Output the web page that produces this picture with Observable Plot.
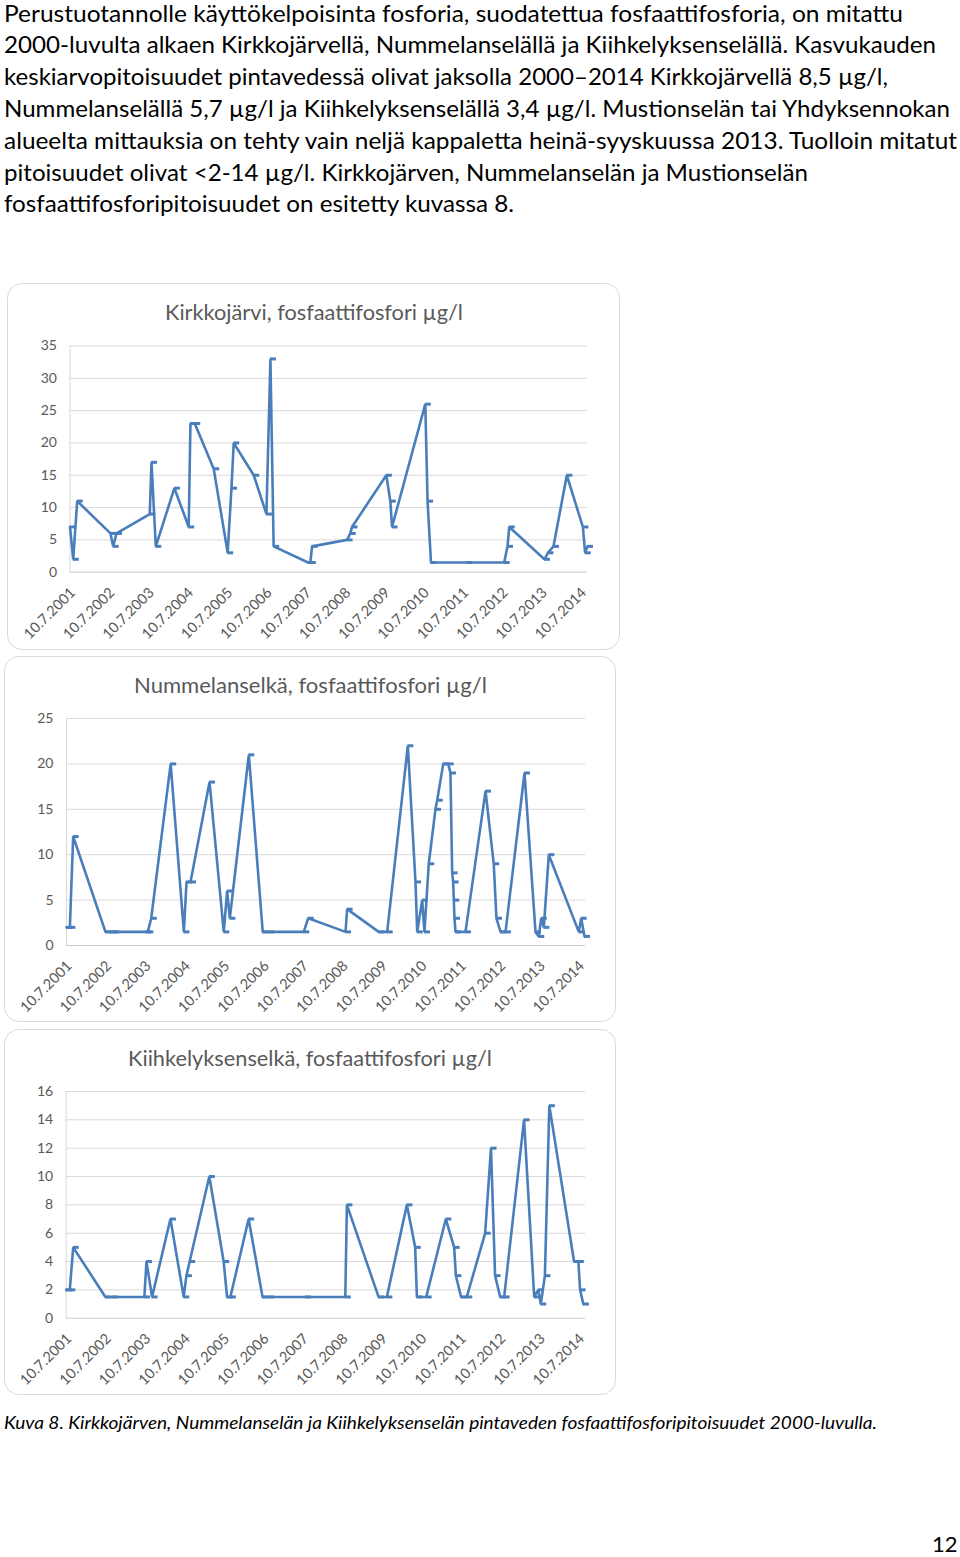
<!DOCTYPE html>
<html><head><meta charset="utf-8">
<script src="https://cdn.jsdelivr.net/npm/d3@7"></script>
<script src="https://cdn.jsdelivr.net/npm/@observablehq/plot@0.6"></script>
<style>
body{margin:0;background:#fff;}
#page{position:relative;width:960px;height:1557px;overflow:hidden;font-family:Lato,"Open Sans",sans-serif;}
.tl{position:absolute;white-space:nowrap;transform-origin:0 50%;display:inline-block;}
.panel{position:absolute;border:1px solid #d9d9d9;border-radius:15px;background:#fff;box-sizing:border-box;}
.chart{position:absolute;left:0;}
</style></head><body><div id="page"></div>
<script>
// ---------- text ----------
const paragraphLines = [
  "Perustuotannolle käyttökelpoisinta fosforia, suodatettua fosfaattifosforia, on mitattu",
  "2000-luvulta alkaen Kirkkojärvellä, Nummelanselällä ja Kiihkelyksenselällä. Kasvukauden",
  "keskiarvopitoisuudet pintavedessä olivat jaksolla 2000–2014 Kirkkojärvellä 8,5 µg/l,",
  "Nummelanselällä 5,7 µg/l ja Kiihkelyksenselällä 3,4 µg/l. Mustionselän tai Yhdyksennokan",
  "alueelta mittauksia on tehty vain neljä kappaletta heinä-syyskuussa 2013. Tuolloin mitatut",
  "pitoisuudet olivat <2-14 µg/l. Kirkkojärven, Nummelanselän ja Mustionselän",
  "fosfaattifosforipitoisuudet on esitetty kuvassa 8."
];
const captionText = "Kuva 8. Kirkkojärven, Nummelanselän ja Kiihkelyksenselän pintaveden fosfaattifosforipitoisuudet 2000-luvulla.";
const pageNumber = "12";
const chartTitles = [
  "Kirkkojärvi, fosfaattifosfori µg/l",
  "Nummelanselkä, fosfaattifosfori µg/l",
  "Kiihkelyksenselkä, fosfaattifosfori µg/l"
];
const xTickLabels = ["10.7.2001","10.7.2002","10.7.2003","10.7.2004","10.7.2005","10.7.2006","10.7.2007",
  "10.7.2008","10.7.2009","10.7.2010","10.7.2011","10.7.2012","10.7.2013","10.7.2014"];

// ---------- data ----------
const kirkkoDates = ["2001-07-10","2001-08-09","2001-09-15","2002-07-21","2002-08-15","2002-09-15",
  "2003-07-21","2003-08-06","2003-09-15","2004-03-06","2004-07-17","2004-08-02","2004-09-11",
  "2005-03-06","2005-07-14","2005-08-18","2005-09-08","2006-03-13","2006-07-09","2006-08-15","2006-09-14",
  "2007-07-31","2007-08-21","2007-09-06","2008-07-27","2008-08-26","2008-09-11",
  "2009-07-27","2009-09-02","2009-09-18","2010-07-24","2010-08-14","2010-09-15","2011-08-15",
  "2012-07-26","2012-08-26","2012-09-11","2013-08-04","2013-09-05","2013-10-27",
  "2014-02-28","2014-07-27","2014-08-17","2014-09-08"];
const kirkkoValues = [7,2,11,6,4,6,9,17,4,13,7,23,23,16,3,13,20,15,9,33,4,1.5,1.5,4,5,6,7,15,11,7,26,11,1.5,1.5,
  1.5,4,7,2,3,4,15,7,3,4];
const kirkkoYTicks = [0,5,10,15,20,25,30,35];

const nummelDates = ["2001-07-10","2001-08-10","2001-09-10","2002-07-06","2002-08-22","2002-09-21",
  "2003-07-12","2003-08-02","2003-09-03","2004-03-01","2004-07-01","2004-07-26","2004-09-01",
  "2005-02-24","2005-07-06","2005-08-06","2005-08-31","2006-02-23","2006-07-02","2006-08-27",
  "2007-07-17","2007-08-27","2008-08-07","2008-08-22","2009-06-11","2009-08-28",
  "2010-03-07","2010-05-17","2010-06-02","2010-07-18","2010-08-08","2010-09-17","2010-11-18","2010-12-04",
  "2011-01-29","2011-03-16","2011-04-06","2011-04-22","2011-05-01","2011-05-07","2011-05-13","2011-05-23","2011-08-23",
  "2012-02-25","2012-05-11","2012-06-05","2012-07-13","2012-08-28",
  "2013-02-20","2013-06-02","2013-07-02","2013-07-25","2013-08-18","2013-10-03",
  "2014-07-08","2014-07-30","2014-08-30"];
const nummelValues = [2,2,12,1.5,1.5,1.5,1.5,1.5,3,20,1.5,7,7,18,1.5,6,3,21,1.5,1.5,1.5,3,1.5,4,1.5,1.5,
  22,7,1.5,5,1.5,9,15,16,20,20,19,8,7,5,3,1.5,1.5,17,9,3,1.5,1.5,19,1.5,1,3,2,10,1.5,3,1];
const nummelYTicks = [0,5,10,15,20,25];

const kiihkDates = ["2001-07-10","2001-08-12","2001-09-13","2002-07-08","2002-09-08",
  "2003-07-04","2003-07-23","2003-09-13","2004-03-01","2004-07-02","2004-07-27","2004-08-26",
  "2005-02-24","2005-07-07","2005-08-07","2005-09-07","2006-02-23","2006-07-02","2006-08-27",
  "2007-08-01","2008-08-06","2008-08-21","2009-06-10","2009-08-26",
  "2010-02-27","2010-05-15","2010-05-31","2010-08-25","2011-02-23","2011-05-11","2011-05-27","2011-07-14","2011-09-05",
  "2012-02-22","2012-04-16","2012-05-24","2012-07-10","2012-08-16",
  "2013-02-16","2013-05-21","2013-06-28","2013-07-21","2013-08-28","2013-10-08",
  "2014-05-25","2014-07-04","2014-07-20","2014-08-19"];
const kiihkValues = [2,2,5,1.5,1.5,1.5,4,1.5,7,1.5,3,4,10,4,1.5,1.5,7,1.5,1.5,1.5,1.5,8,1.5,1.5,
  8,5,1.5,1.5,7,5,3,1.5,1.5,6,12,3,1.5,1.5,14,1.5,2,1,3,15,4,4,2,1];
const kiihkYTicks = [0,2,4,6,8,10,12,14,16];

// ---------- layout (positions / sizes) ----------
const page = document.getElementById("page");
const FONT = 'Lato, "Open Sans", sans-serif';
function addText(txt, left, centerY, size, targetW, opts = {}) {
  const el = document.createElement("div");
  el.className = "tl";
  el.textContent = txt;
  el.style.fontSize = size + "px";
  el.style.lineHeight = "1";
  el.style.color = opts.color || "#000";
  if (opts.italic) el.style.fontStyle = "italic";
  el.style.left = left + "px";
  el.style.top = (centerY - size / 2) + "px";
  page.appendChild(el);
  if (targetW) {
    const w = el.getBoundingClientRect().width;
    el.style.transform = `scaleX(${targetW / w})`;
  }
  return el;
}
const lineRight = [903, 936, 888, 950, 957, 808, 514];
paragraphLines.forEach((t, i) => addText(t, 4, 13 + i * 31.8, 23, lineRight[i] - 4));

const panels = [
  {left: 7, top: 283, width: 613, height: 367, titleW: 298, svgTop: 330, x0: 69.5, x1: 587, y0: 571.7, y1: 345.5,
   dates: kirkkoDates, values: kirkkoValues, yTicks: kirkkoYTicks},
  {left: 4, top: 656, width: 612, height: 366, titleW: 353, svgTop: 700, x0: 66, x1: 585, y0: 945, y1: 718,
   dates: nummelDates, values: nummelValues, yTicks: nummelYTicks},
  {left: 4, top: 1029, width: 612, height: 366, titleW: 364, svgTop: 1075, x0: 65.7, x1: 585, y0: 1317.7, y1: 1091,
   dates: kiihkDates, values: kiihkValues, yTicks: kiihkYTicks}
];

const parseISO = d3.utcParse("%Y-%m-%d");
const parseTick = d3.utcParse("%d.%m.%Y");
const tickDates = xTickLabels.map(parseTick);
const tickLabelOf = new Map(tickDates.map((d, i) => [+d, xTickLabels[i]]));
const allDates = [kirkkoDates, nummelDates, kiihkDates].flat().map(parseISO);
const xDomain = d3.extent(allDates);

const dash = {draw(ctx) { ctx.moveTo(-0.5, 0); ctx.lineTo(5.5, 0); }};
const BLUE = "#4a7ebb";
const W = 610, H = 320;

panels.forEach((p, k) => {
  const box = document.createElement("div");
  box.className = "panel";
  Object.assign(box.style, {left: p.left + "px", top: p.top + "px", width: p.width + "px", height: p.height + "px"});
  page.appendChild(box);
  addText(chartTitles[k], p.left + p.width / 2 - p.titleW / 2, p.top + 28, 21, p.titleW, {color: "#595959"});

  const data = p.dates.map((d, i) => ({date: parseISO(d), value: p.values[i]}));
  const yMax = p.yTicks[p.yTicks.length - 1];
  const chart = Plot.plot({
    width: W, height: H,
    marginLeft: p.x0, marginRight: W - p.x1,
    marginTop: p.y1 - p.svgTop, marginBottom: H - (p.y0 - p.svgTop),
    x: {type: "utc", domain: xDomain},
    y: {domain: [0, yMax]},
    style: {fontFamily: FONT, fontSize: "14px", color: "#595959", background: "transparent", overflow: "visible"},
    marks: [
      Plot.ruleY(p.yTicks.slice(1), {stroke: "#d9d9d9", strokeWidth: 1}),
      Plot.ruleY([0], {stroke: "#c8c8c8", strokeWidth: 1}),
      Plot.ruleX([xDomain[0]], {stroke: "#d9d9d9", strokeWidth: 1}),
      Plot.axisY({ticks: p.yTicks, tickSize: 0, tickPadding: 13, label: null, fill: "#595959"}),
      Plot.axisX({ticks: tickDates, tickFormat: d => tickLabelOf.get(+d), tickRotate: -45, tickSize: 0,
        tickPadding: 18, dx: 3, label: null, fill: "#595959", fontSize: 14.5}),
      Plot.line(data, {x: "date", y: "value", stroke: BLUE, strokeWidth: 2.6, strokeLinejoin: "miter"}),
      Plot.dot(data, {x: "date", y: "value", symbol: dash, stroke: BLUE, strokeWidth: 3, fill: "none"})
    ]
  });
  chart.classList.add("chart");
  chart.style.top = p.svgTop + "px";
  chart.style.position = "absolute";
  page.appendChild(chart);
});

addText(captionText, 4, 1422, 17, 873, {italic: true});
addText(pageNumber, 932, 1544, 22);
</script>
</body></html>
